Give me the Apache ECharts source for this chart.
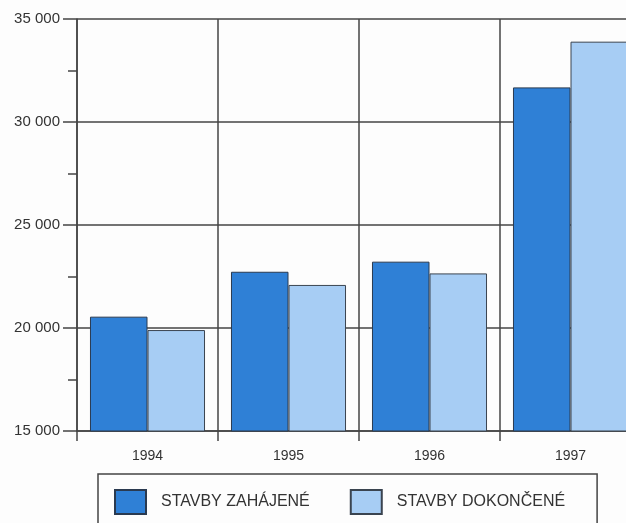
<!DOCTYPE html>
<html>
<head>
<meta charset="utf-8">
<script src="https://cdn.jsdelivr.net/npm/echarts@6/dist/echarts.min.js"></script>
<style>
html,body{margin:0;padding:0;background:#fdfdfd;}
#chart{width:626px;height:523px;}
</style>
</head>
<body>
<div id="chart"></div>
<script>
const categories = ['1994', '1995', '1996', '1997'];
const seriesNames = ['STAVBY ZAHÁJENÉ', 'STAVBY DOKONČENÉ'];
const started = [20550, 22730, 23220, 31680];
const completed = [19900, 22090, 22650, 33900];
const yMin = 15000, yMax = 35000, yStep = 5000;

const font = 'Liberation Sans, Arial, sans-serif';
const ink = '#333';
const chart = echarts.init(document.getElementById('chart'), null, {renderer: 'canvas'});
chart.setOption({
  backgroundColor: '#fdfdfd',
  animation: false,
  grid: {left: 77, top: 19, bottom: 92, width: 564, containLabel: false, outerBoundsMode: 'none'},
  legend: {
    left: 98, top: 474,
    orient: 'horizontal',
    icon: 'rect',
    itemWidth: 31, itemHeight: 24,
    itemGap: 40,
    padding: [15, 32, 40, 16],
    borderColor: '#444', borderWidth: 1.5,
    textStyle: {fontFamily: font, fontSize: 16, color: ink, padding: [0, 0, 0, 10]},
    data: seriesNames
  },
  xAxis: {
    type: 'category',
    data: categories,
    boundaryGap: true,
    axisLine: {show: true, lineStyle: {color: '#444', width: 1.5}},
    axisTick: {show: true, length: 10, lineStyle: {color: '#444', width: 1.5}},
    axisLabel: {fontFamily: font, fontSize: 14, color: ink, margin: 18},
    splitLine: {show: true, lineStyle: {color: '#444', width: 1.5}}
  },
  yAxis: {
    type: 'value',
    min: yMin, max: yMax, interval: yStep,
    axisLine: {show: true, lineStyle: {color: '#444', width: 1.5}},
    axisTick: {show: true, length: 14, lineStyle: {color: '#444', width: 1.5}},
    minorTick: {show: true, splitNumber: 2, length: 9, lineStyle: {color: '#444', width: 1.5}},
    axisLabel: {
      fontFamily: font, fontSize: 15, color: ink, margin: 17,
      formatter: v => String(v).replace(/\B(?=(\d{3})+(?!\d))/g, ' ')
    },
    splitLine: {show: true, lineStyle: {color: '#444', width: 1.5}}
  },
  series: [
    {
      name: seriesNames[0], type: 'bar', data: started,
      barGap: '0%', barCategoryGap: '18.4%',
      itemStyle: {color: '#2f80d6', borderColor: '#2a3a50', borderWidth: 1}
    },
    {
      name: seriesNames[1], type: 'bar', data: completed,
      barGap: '0%', barCategoryGap: '18.4%',
      itemStyle: {color: '#a7cdf4', borderColor: '#3a4450', borderWidth: 1}
    }
  ]
});
</script>
</body>
</html>
